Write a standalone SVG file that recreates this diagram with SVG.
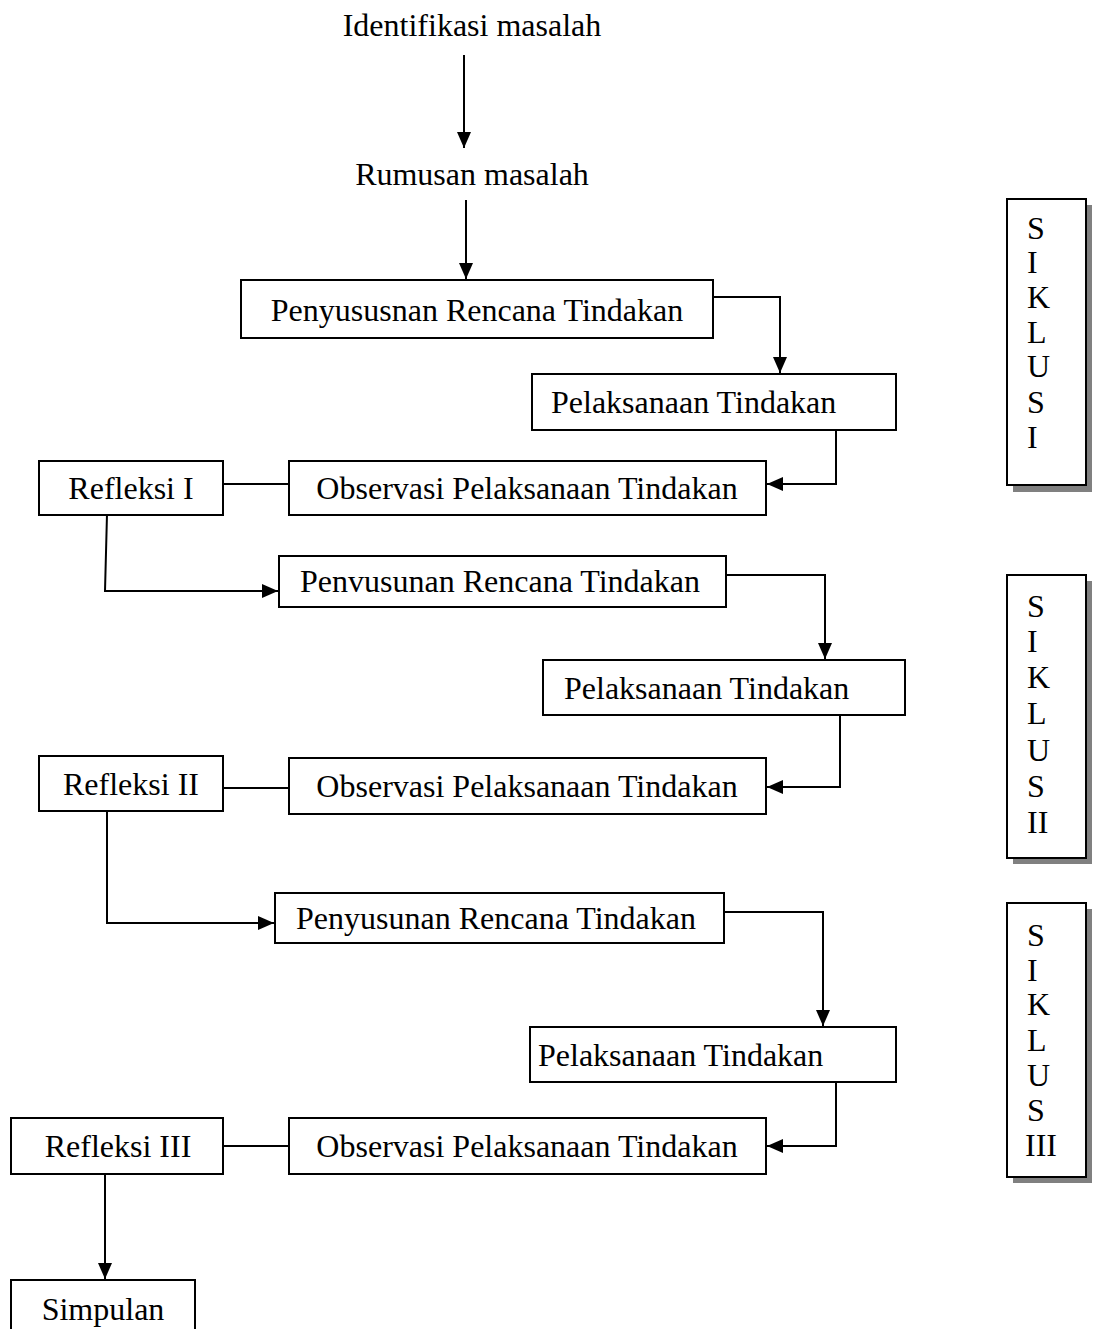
<svg xmlns="http://www.w3.org/2000/svg" width="1098" height="1329" viewBox="0 0 1098 1329">
<style>
text{font-family:"Liberation Serif","Times New Roman",serif;font-size:32px;fill:#000}
.c{text-anchor:middle}
.box{fill:#fff;stroke:#000;stroke-width:2}
.ln{fill:none;stroke:#000;stroke-width:2}
.sh{fill:#808080}
</style>
<defs>
<marker id="ah" markerUnits="userSpaceOnUse" markerWidth="16" markerHeight="16" viewBox="0 0 16 16" refX="16" refY="8" orient="auto">
<path d="M0,1 L16,8 L0,15 Z" fill="#000"/>
</marker>
</defs>
<rect width="1098" height="1329" fill="#fff"/>

<g id="connectors">
<path class="ln" d="M464,55 V148" marker-end="url(#ah)"/>
<path class="ln" d="M466,200 V279" marker-end="url(#ah)"/>
<path class="ln" d="M713,297 H780 V373" marker-end="url(#ah)"/>
<path class="ln" d="M836,430 V484 H767" marker-end="url(#ah)"/>
<path class="ln" d="M223,484 H289"/>
<path class="ln" d="M107,514 L105,591 H278" marker-end="url(#ah)"/>
<path class="ln" d="M725,575 H825 V659" marker-end="url(#ah)"/>
<path class="ln" d="M840,715 V787 H767" marker-end="url(#ah)"/>
<path class="ln" d="M223,788 H289"/>
<path class="ln" d="M107,811 V923 H274" marker-end="url(#ah)"/>
<path class="ln" d="M724,912 H823 V1026" marker-end="url(#ah)"/>
<path class="ln" d="M836,1082 V1146 H767" marker-end="url(#ah)"/>
<path class="ln" d="M223,1146 H289"/>
<path class="ln" d="M105,1174 V1279" marker-end="url(#ah)"/>
</g>

<g id="identifikasi"><text class="c" x="472" y="36">Identifikasi masalah</text></g>
<g id="rumusan"><text class="c" x="472" y="185">Rumusan masalah</text></g>

<g id="rencana1"><rect class="box" x="241" y="280" width="472" height="58"/><text class="c" x="477" y="321">Penyususnan Rencana Tindakan</text></g>
<g id="pelaksanaan1"><rect class="box" x="532" y="374" width="364" height="56"/><text x="551" y="413">Pelaksanaan Tindakan</text></g>
<g id="observasi1"><rect class="box" x="289" y="461" width="477" height="54"/><text class="c" x="527" y="499">Observasi Pelaksanaan Tindakan</text></g>
<g id="refleksi1"><rect class="box" x="39" y="461" width="184" height="54"/><text class="c" x="131" y="499">Refleksi I</text></g>

<g id="rencana2"><rect class="box" x="279" y="556" width="447" height="51"/><text class="c" x="500" y="592">Penvusunan Rencana Tindakan</text></g>
<g id="pelaksanaan2"><rect class="box" x="543" y="660" width="362" height="55"/><text x="564" y="699">Pelaksanaan Tindakan</text></g>
<g id="observasi2"><rect class="box" x="289" y="758" width="477" height="56"/><text class="c" x="527" y="797">Observasi Pelaksanaan Tindakan</text></g>
<g id="refleksi2"><rect class="box" x="39" y="756" width="184" height="55"/><text class="c" x="131" y="795">Refleksi II</text></g>

<g id="rencana3"><rect class="box" x="275" y="893" width="449" height="50"/><text class="c" x="496" y="929">Penyusunan Rencana Tindakan</text></g>
<g id="pelaksanaan3"><rect class="box" x="530" y="1027" width="366" height="55"/><text x="538" y="1066">Pelaksanaan Tindakan</text></g>
<g id="observasi3"><rect class="box" x="289" y="1118" width="477" height="56"/><text class="c" x="527" y="1157">Observasi Pelaksanaan Tindakan</text></g>
<g id="refleksi3"><rect class="box" x="11" y="1118" width="212" height="56"/><text class="c" x="118" y="1157">Refleksi III</text></g>

<g id="simpulan"><rect class="box" x="11" y="1280" width="184" height="60"/><text class="c" x="103" y="1320">Simpulan</text></g>

<g id="siklus1">
<rect class="sh" x="1013" y="205" width="79" height="287"/>
<rect class="box" x="1007" y="199" width="79" height="286"/>
<text x="1027" y="239">S</text><text x="1027" y="273">I</text><text x="1027" y="308">K</text><text x="1027" y="343">L</text><text x="1027" y="377">U</text><text x="1027" y="413">S</text><text x="1027" y="448">I</text>
</g>
<g id="siklus2">
<rect class="sh" x="1013" y="581" width="79" height="283"/>
<rect class="box" x="1007" y="575" width="79" height="283"/>
<text x="1027" y="617">S</text><text x="1027" y="652">I</text><text x="1027" y="688">K</text><text x="1027" y="724">L</text><text x="1027" y="761">U</text><text x="1027" y="797">S</text><text x="1027" y="833">II</text>
</g>
<g id="siklus3">
<rect class="sh" x="1013" y="909" width="79" height="274"/>
<rect class="box" x="1007" y="903" width="79" height="274"/>
<text x="1027" y="946">S</text><text x="1027" y="981">I</text><text x="1027" y="1015">K</text><text x="1027" y="1051">L</text><text x="1027" y="1086">U</text><text x="1027" y="1121">S</text><text x="1025" y="1156">III</text>
</g>
</svg>
